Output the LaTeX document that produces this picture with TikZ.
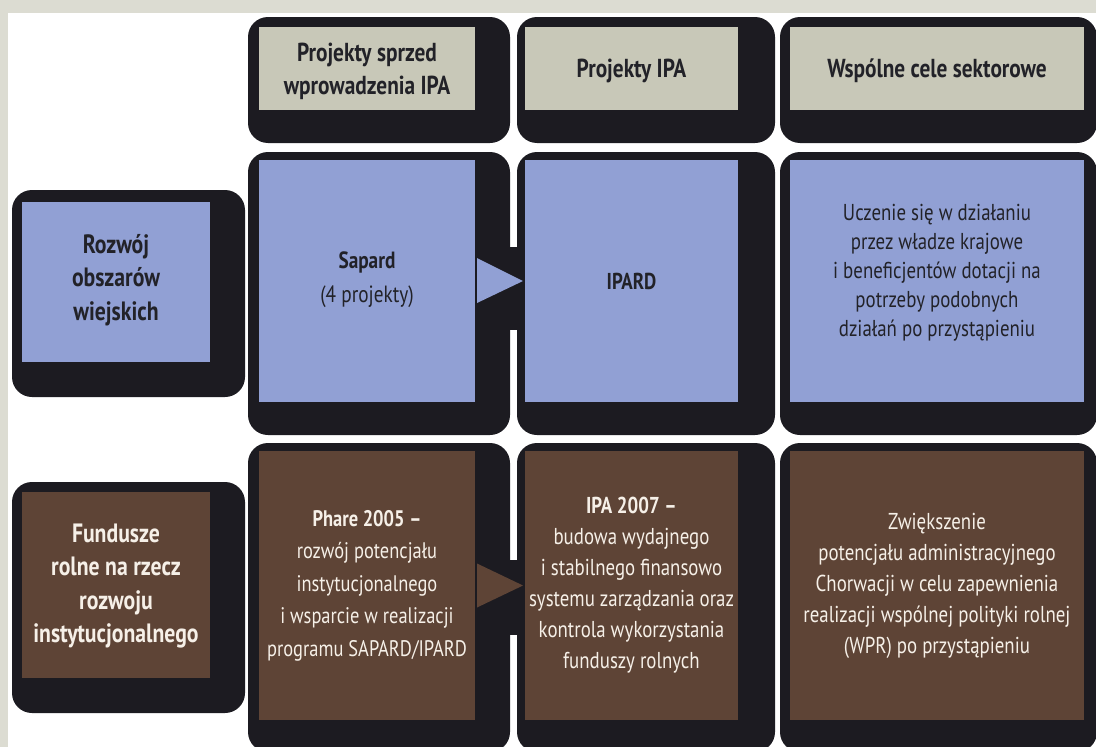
\documentclass[tikz,border=0pt]{standalone}
\usepackage{fontspec}
\setmainfont{PT Sans}[FakeStretch=0.82]
\definecolor{pagegrey}{RGB}{220,220,210}
\definecolor{framebk}{RGB}{28,27,33}
\definecolor{headgrey}{RGB}{200,200,184}
\definecolor{cellblue}{RGB}{145,160,212}
\definecolor{cellbrown}{RGB}{94,68,54}
\definecolor{darktxt}{RGB}{34,34,40}
\definecolor{lighttxt}{RGB}{246,240,232}
\begin{document}
\begin{tikzpicture}[x=1pt,y=-1pt,line join=round,
  frame/.style={fill=framebk,rounded corners=20pt},
  inbox/.style={anchor=north west,inner sep=0pt,outer sep=0pt,minimum width=#1},
  headtxt/.style={align=center,inner sep=0pt,text=darktxt,font=\fontsize{26}{33}\selectfont\bfseries},
  labeltxt/.style={align=center,inner sep=0pt,font=\fontsize{26.5}{33.5}\selectfont\bfseries},
  bodytxt/.style={align=center,inner sep=0pt,font=\fontsize{23}{31}\selectfont}]
\clip (0,0) rectangle (1096,747);
\fill[pagegrey] (0,0) rectangle (1096,747);
\fill[white] (8,13) rectangle (1096,747);
\fill[frame] (248,17) rectangle (510,143);
\fill[frame] (517,17) rectangle (775,143);
\fill[frame] (780,17) rectangle (1097,143);
\fill[frame] (12,190) rectangle (245,397);
\fill[frame] (248,152) rectangle (510,435);
\fill[frame] (517,152) rectangle (775,435);
\fill[frame] (780,152) rectangle (1097,435);
\fill[frame] (12,482) rectangle (245,713);
\fill[frame] (248,443) rectangle (510,752);
\fill[frame] (517,443) rectangle (775,752);
\fill[frame] (780,443) rectangle (1097,752);
\fill[framebk] (506,247) rectangle (521,330);
\fill[framebk] (506,560) rectangle (521,635);
\node[inbox=216pt,minimum height=83pt,fill=headgrey] (hdpre) at (259,27) {};
\node[inbox=213pt,minimum height=83pt,fill=headgrey] (hdipa) at (525,27) {};
\node[inbox=294pt,minimum height=83pt,fill=headgrey] (hdcele) at (790,27) {};
\node[inbox=188pt,minimum height=160pt,fill=cellblue] (rural) at (22,202) {};
\node[inbox=216pt,minimum height=242pt,fill=cellblue] (sapard) at (259,160) {};
\node[inbox=213pt,minimum height=242pt,fill=cellblue] (ipard) at (525,160) {};
\node[inbox=294pt,minimum height=242pt,fill=cellblue] (learn) at (790,160) {};
\node[inbox=188pt,minimum height=186pt,fill=cellbrown] (funds) at (22,492) {};
\node[inbox=216pt,minimum height=269pt,fill=cellbrown] (phare) at (259,451) {};
\node[inbox=213pt,minimum height=269pt,fill=cellbrown] (ipa) at (525,451) {};
\node[inbox=294pt,minimum height=269pt,fill=cellbrown] (admin) at (790,451) {};
\fill[cellblue] ([xshift=2pt,yshift=23pt]sapard.east) -- ([xshift=-2pt]ipard.west) -- ([xshift=2pt,yshift=-22pt]sapard.east) -- cycle;
\fill[cellbrown] ([xshift=2pt,yshift=22pt]phare.east) -- ([xshift=-2pt]ipa.west) -- ([xshift=2pt,yshift=-22pt]phare.east) -- cycle;
\node[headtxt] (hdpretxt) at ([yshift=-3pt]hdpre.center) {Projekty sprzed\\wprowadzenia IPA};
\node[headtxt] (hdipatxt) at ([yshift=-2pt]hdipa.center) {Projekty IPA};
\node[headtxt] (hdceletxt) at ([yshift=-2pt]hdcele.center) {Wspólne cele sektorowe};
\node[labeltxt,text=darktxt] (ruraltxt) at ([yshift=2pt]rural.center) {Rozwój\\obszarów\\wiejskich};
\node[bodytxt,text=darktxt,font=\fontsize{23.5}{34}\selectfont] (sapardtxt) at ([yshift=1pt]sapard.center) {\textbf{Sapard}\\(4 projekty)};
\node[bodytxt,text=darktxt,font=\fontsize{23}{30}\selectfont\bfseries] (ipardtxt) at (ipard.center) {IPARD};
\node[bodytxt,text=darktxt,font=\fontsize{23}{29}\selectfont] (learntxt) at ([yshift=8pt]learn.center) {Uczenie się w działaniu\\przez władze krajowe\\i beneficjentów dotacji na\\potrzeby podobnych\\działań po przystąpieniu};
\node[labeltxt,text=lighttxt] (fundstxt) at ([yshift=-1pt]funds.center) {Fundusze\\rolne na rzecz\\rozwoju\\instytucjonalnego};
\node[bodytxt,text=lighttxt,font=\fontsize{22.5}{32.5}\selectfont] (pharetxt) at (phare.center) {\textbf{Phare 2005 –}\\rozwój potencjału\\instytucjonalnego\\i wsparcie w realizacji\\programu SAPARD/IPARD};
\node[bodytxt,text=lighttxt] (ipatxt) at (ipa.center) {\textbf{IPA 2007 –}\\budowa wydajnego\\i stabilnego finansowo\\systemu zarządzania oraz\\kontrola wykorzystania\\funduszy rolnych};
\node[bodytxt,text=lighttxt] (admintxt) at (admin.center) {Zwiększenie\\potencjału administracyjnego\\Chorwacji w celu zapewnienia\\realizacji wspólnej polityki rolnej\\(WPR) po przystąpieniu};
\end{tikzpicture}
\end{document}
